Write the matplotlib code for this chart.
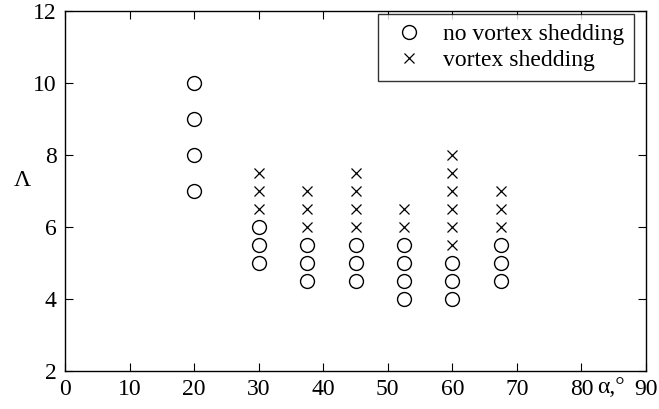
import matplotlib
matplotlib.use("Agg")
import matplotlib.pyplot as plt

plt.rcParams['font.family'] = ['Liberation Serif', 'DejaVu Serif']

# no vortex shedding (circles)
alpha_no = [20, 20, 20, 20,
            30, 30, 30,
            37.5, 37.5, 37.5,
            45, 45, 45,
            52.5, 52.5, 52.5, 52.5,
            60, 60, 60,
            67.5, 67.5, 67.5]
lam_no = [7, 8, 9, 10,
          5, 5.5, 6,
          4.5, 5, 5.5,
          4.5, 5, 5.5,
          4, 4.5, 5, 5.5,
          4, 4.5, 5,
          4.5, 5, 5.5]

# vortex shedding (crosses)
alpha_vs = [30, 30, 30,
            37.5, 37.5, 37.5,
            45, 45, 45, 45,
            52.5, 52.5,
            60, 60, 60, 60, 60, 60,
            67.5, 67.5, 67.5]
lam_vs = [6.5, 7, 7.5,
          6, 6.5, 7,
          6, 6.5, 7, 7.5,
          6, 6.5,
          5.5, 6, 6.5, 7, 7.5, 8,
          6, 6.5, 7]

xticks = [0, 10, 20, 30, 40, 50, 60, 70, 80, 90]
yticks = [2, 4, 6, 8, 10, 12]

fig = plt.figure(figsize=(6.59, 4.09), dpi=100)
ax = fig.add_axes([65 / 659, 38 / 409, 581 / 659, 360 / 409])

ax.plot(alpha_no, lam_no, 'o', mfc='none', mec='black', mew=1.0, ms=10,
        label='no vortex shedding')
ax.plot(alpha_vs, lam_vs, 'x', color='black', mew=0.9, ms=6.5,
        label='vortex shedding')

ax.set_xlim(0, 90)
ax.set_ylim(2, 12)
ax.set_xticks(xticks)
ax.set_yticks(yticks)
ax.tick_params(direction='in', top=True, right=True, labelsize=17, length=6, pad=6)
for s in ax.spines.values():
    s.set_linewidth(1.0)

ax.text(84.6, -0.017, 'α,°', transform=ax.get_xaxis_transform(),
        ha='center', va='top', fontsize=17)

ax.set_ylabel('Λ', fontsize=17, rotation=0, va='center')
ax.yaxis.set_label_coords(-0.073, 0.53)

leg = ax.legend(loc='upper right', bbox_to_anchor=(0.979, 0.992), borderaxespad=0,
                fontsize=17, frameon=True, fancybox=False,
                edgecolor='black', borderpad=0.4, handletextpad=0.55,
                labelspacing=0.2, handlelength=1.8)
leg.get_frame().set_linewidth(1.0)

fig.savefig('out.png', dpi=100)
